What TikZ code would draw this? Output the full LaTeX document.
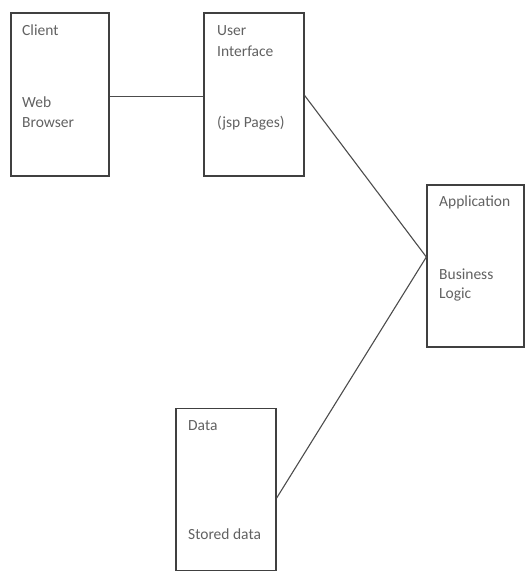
\documentclass[tikz,border=0pt]{standalone}
\usepackage{fontspec}
\setmainfont{Carlito}
\begin{document}
\begin{tikzpicture}[x=1pt,y=-1pt,
  box/.style={draw=black!75, line width=1.3pt, inner sep=0pt},
  lbl/.style={anchor=base west, inner sep=0pt, text=black!62, font=\fontsize{15.5}{18}\selectfont},
  link/.style={draw=black!70, line width=1.1pt}]
\useasboundingbox (0,0) rectangle (525,572);
% boxes
\node[box, minimum width=98pt, minimum height=163pt] (client) at (60,94.5) {};
\node[box, minimum width=100pt, minimum height=163pt] (ui) at (254,94.5) {};
\node[box, minimum width=97pt, minimum height=162pt] (app) at (475.5,266) {};
\node[box, minimum width=100pt, minimum height=162pt] (data) at (226,489.5) {};
% texts
\node[lbl] (t1) at (22,36) {Client};
\node[lbl] (t2) at (22,108) {Web};
\node[lbl] (t3) at (22,128) {Browser};
\node[lbl] (t4) at (217,36) {User};
\node[lbl] (t5) at (217,57) {Interface};
\node[lbl] (t6) at (217,128) {(jsp Pages)};
\node[lbl] (t7) at (439,206) {Application};
\node[lbl] (t8) at (439,279) {Business};
\node[lbl] (t9) at (439,298) {Logic};
\node[lbl] (t10) at (188,430) {Data};
\node[lbl] (t11) at (188,539) {Stored data};
% connectors
\draw[link] ([yshift=-2pt]client.east) -- ([yshift=-2pt]ui.west);
\draw[link] ([yshift=-1pt]ui.east) -- ([yshift=9pt]app.west);
\draw[link] ([yshift=-8.5pt]data.east) -- ([yshift=9pt]app.west);
\end{tikzpicture}
\end{document}
